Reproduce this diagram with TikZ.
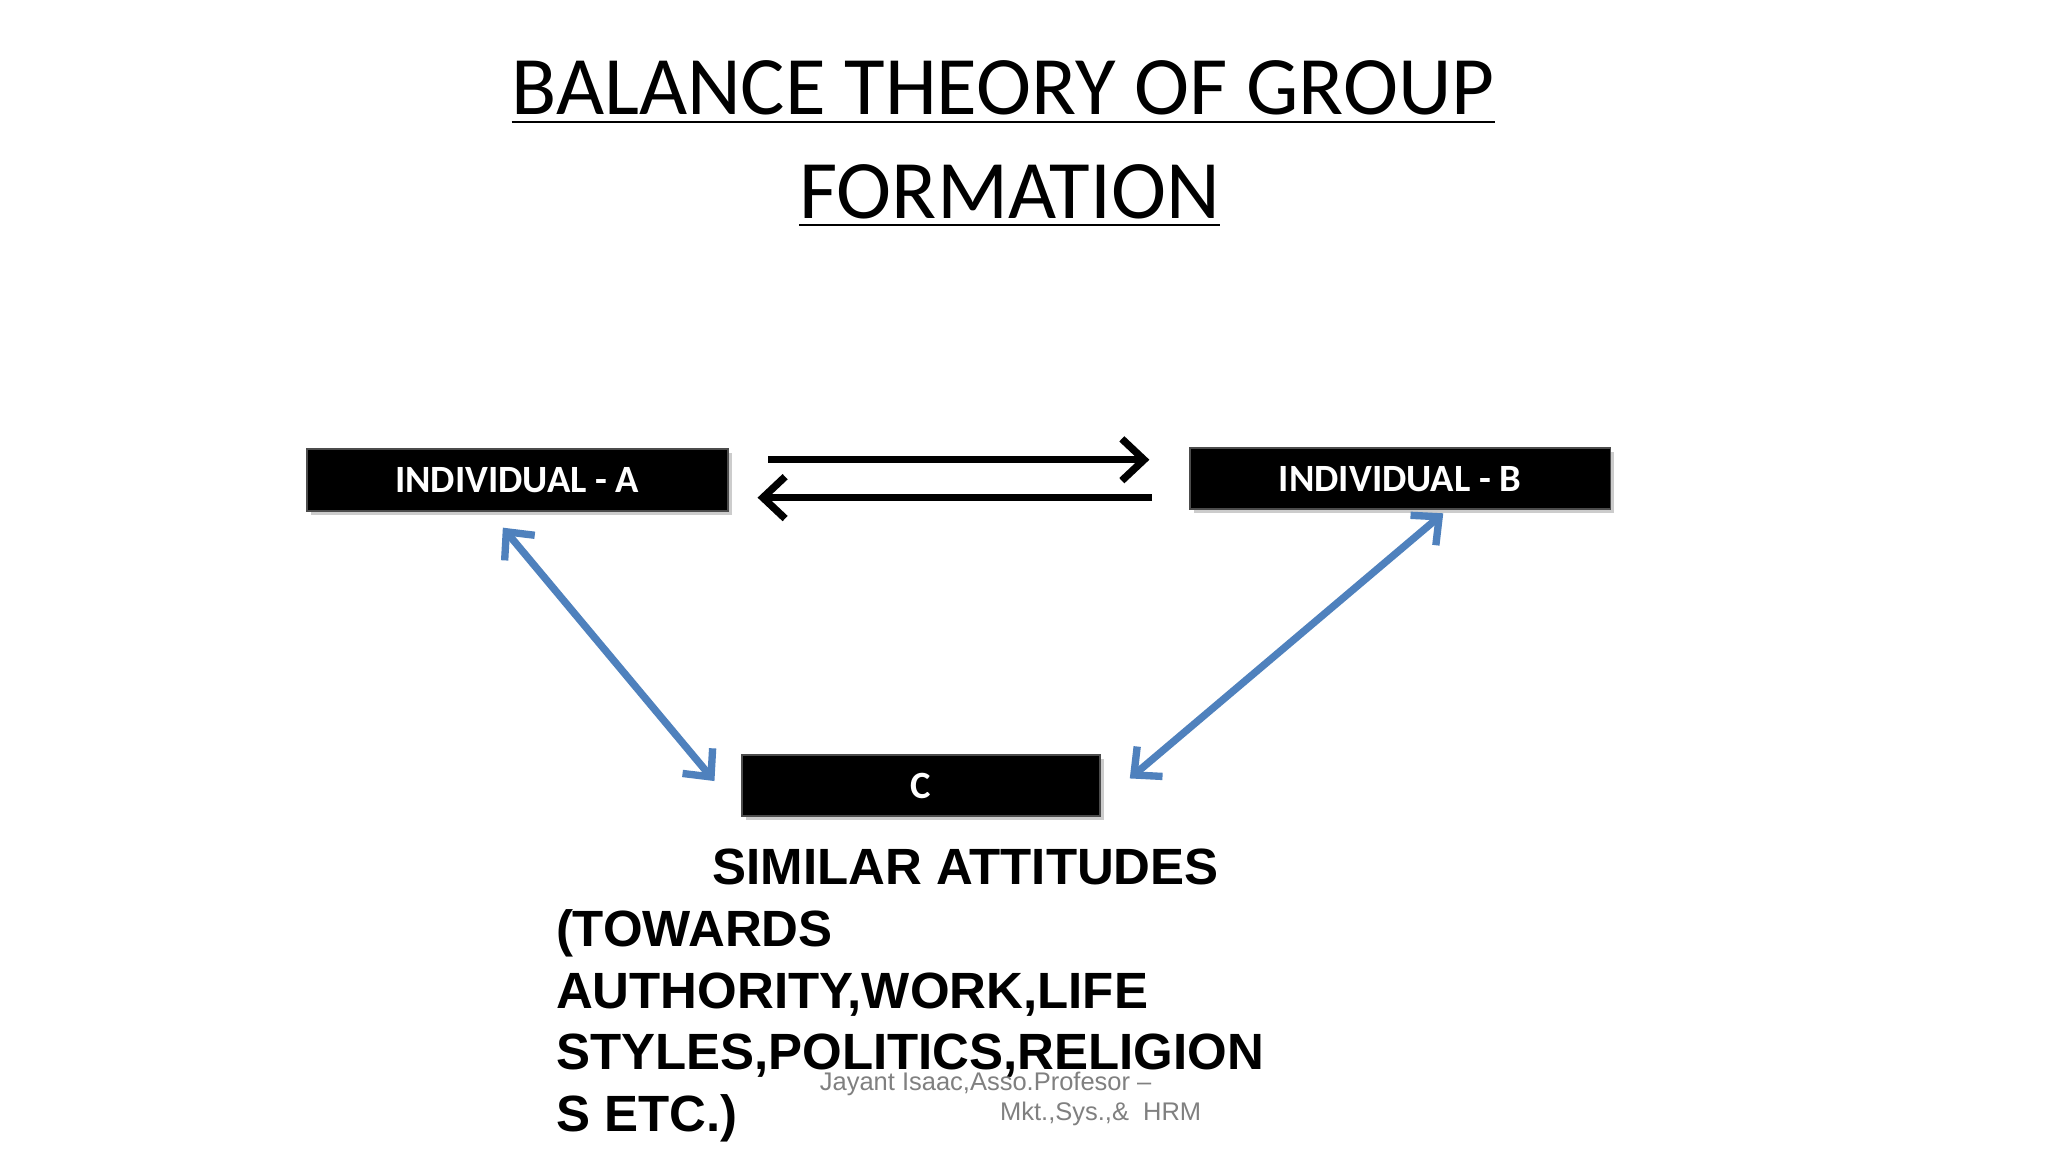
\documentclass[tikz,border=0pt]{standalone}
\usepackage{fontspec}
\setmainfont{Carlito}
\newfontfamily\arialf{Liberation Sans}
\usetikzlibrary{arrows.meta,shadows}
\definecolor{bluearr}{HTML}{4F81BD}
\tikzset{
  pbox/.style={fill=black,draw=black!70,minimum height=0.47cm,inner sep=0pt,
    text=white,font=\fontsize{8.4}{9}\selectfont\bfseries,
    drop shadow={shadow xshift=0.03cm,shadow yshift=-0.03cm,opacity=0.4}},
  blk/.style={draw=black,line width=1.6pt,-{Straight Barb[length=1.7mm,width=3.2mm]}},
  blu/.style={draw=bluearr,line width=1.6pt,{Straight Barb[length=1.6mm,width=3mm]}-{Straight Barb[length=1.6mm,width=3mm]}},
  body/.style={font=\arialf\bfseries\fontsize{11.1}{12}\selectfont,anchor=base west,inner sep=0pt},
  foot/.style={font=\arialf\fontsize{5.55}{6}\selectfont,text=black!50,anchor=base west,inner sep=0pt},
  ttl/.style={font=\fontsize{18.1}{19}\selectfont,anchor=base,inner sep=0pt}
}
\begin{document}
\begin{tikzpicture}[x=0.01cm,y=-0.01cm]
\useasboundingbox[fill=white] (0,0) rectangle (1568,882);
\node[ttl] (t1) at (768,88) {\underline{BALANCE THEORY OF GROUP}};
\node[ttl] (t2) at (773,167) {\underline{FORMATION}};
\node[pbox,minimum width=3.22cm] (A) at (396,367.5) {INDIVIDUAL - A};
\node[pbox,minimum width=3.22cm] (B) at (1072,366.5) {INDIVIDUAL - B};
\node[pbox,minimum width=2.74cm] (C) at (705,601.5) {C};
\coordinate (a1) at (588,352); \coordinate (b1) at (880,352);
\coordinate (b2) at (882,381); \coordinate (a2) at (580,381);
\draw[blk] (a1) -- (b1);
\draw[blk] (b2) -- (a2);
\coordinate (pa) at (385,404); \coordinate (pc1) at (547,598);
\coordinate (pb) at (1105,393); \coordinate (pc2) at (865,596);
\draw[blu] (pa) -- (pc1);
\draw[blu] (pb) -- (pc2);
\node[body] (s0) at (545,677) {SIMILAR ATTITUDES};
\node[body] (s1) at (425,725) {(TOWARDS};
\node[body] (s2) at (425,772) {AUTHORITY,WORK,LIFE};
\node[body] (s3) at (425,819) {STYLES,POLITICS,RELIGION};
\node[body] (s4) at (425,866) {S ETC.)};
\node[foot] (f1) at (627,835) {Jayant Isaac,Asso.Profesor –};
\node[foot] (f2) at (765,858) {Mkt.,Sys.,\&\ \ HRM};
\end{tikzpicture}
\end{document}
